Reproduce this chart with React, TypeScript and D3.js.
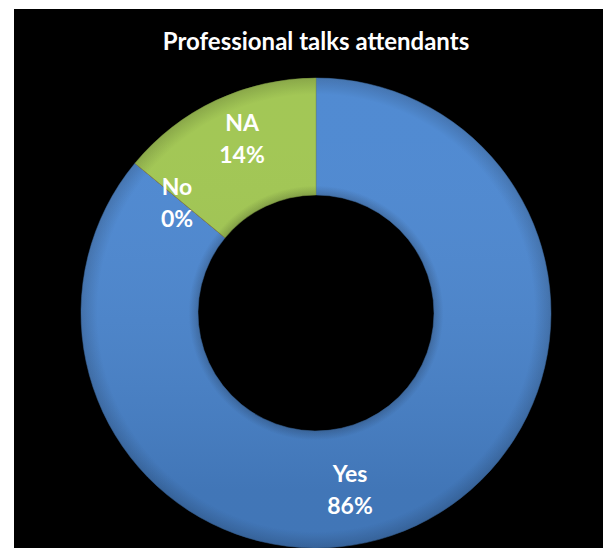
import React from "react";
import * as d3 from "d3";

const categories = ["Yes", "No", "NA"];
const values = [86, 0, 14];
const colors = ["#4a86d0", "#c0504d", "#9fc54f"];
const labels = ["86%", "0%", "14%"];
const title = "Professional talks attendants";

interface Slice {
  name: string;
  value: number;
  color: string;
  label: string;
}

const slices: Slice[] = categories.map((c, i) => ({
  name: c,
  value: values[i],
  color: colors[i],
  label: labels[i],
}));

// label offsets (labels are placed by hand in the original)
const labelPos: Record<string, [number, number]> = {
  Yes: [34, 169],
  No: [-139, -118],
  NA: [-74, -182],
};

const App: React.FC = () => {
  const width = 603;
  const height = 548;
  const cx = 316;
  const cy = 313;
  const outer = 235;
  const inner = 118;

  const pie = d3
    .pie<Slice>()
    .value((d) => d.value)
    .sort(null);
  const arcs = pie(slices);
  const arc = d3.arc<d3.PieArcDatum<Slice>>().innerRadius(inner).outerRadius(outer);

  const font = "Lato, 'Open Sans', sans-serif";

  return (
    <svg
      width={width}
      height={height}
      style={{ position: "absolute", left: 0, top: 0, display: "block" }}
    >
      <defs>
        {slices.map((s, i) => (
          <radialGradient
            key={s.name}
            id={`g${i}`}
            gradientUnits="userSpaceOnUse"
            cx={0}
            cy={0}
            r={outer}
          >
            <stop offset={inner / outer} stopColor={d3.color(s.color)!.darker(0.6).formatHex()} />
            <stop offset={inner / outer + 0.04} stopColor={s.color} />
            <stop offset={0.93} stopColor={s.color} />
            <stop offset={1} stopColor={d3.color(s.color)!.darker(0.5).formatHex()} />
          </radialGradient>
        ))}
        <linearGradient id="shade" x1="0" y1="0" x2="0" y2="1">
          <stop offset="0" stopColor="#fff" stopOpacity={0.04} />
          <stop offset="1" stopColor="#000" stopOpacity={0.12} />
        </linearGradient>
      </defs>
      <rect x={0} y={0} width={width} height={height} fill="#fff" />
      <rect x={14} y={9} width={width - 14} height={height - 9} fill="#000" />
      <text
        x={cx}
        y={50}
        textAnchor="middle"
        fill="#fff"
        fontFamily={font}
        fontWeight="bold"
        fontSize={24}
      >
        {title}
      </text>
      <g transform={`translate(${cx},${cy})`}>
        {arcs.map((a, i) => (
          <path
            key={a.data.name}
            d={arc(a) || ""}
            fill={`url(#g${i})`}
            stroke={d3.color(a.data.color)!.darker(0.8).formatHex()}
            strokeOpacity={0.5}
            strokeWidth={1}
          />
        ))}
        <circle r={(inner + outer) / 2} fill="none" stroke="url(#shade)" strokeWidth={outer - inner} />
        {arcs.map((a) => {
          const [lx, ly] = labelPos[a.data.name];
          return (
            <text
              key={a.data.name}
              x={lx}
              y={ly}
              textAnchor="middle"
              fill="#fff"
              fontFamily={font}
              fontWeight="bold"
              fontSize={23}
            >
              <tspan x={lx} dy={0}>
                {a.data.name}
              </tspan>
              <tspan x={lx} dy={32}>
                {a.data.label}
              </tspan>
            </text>
          );
        })}
      </g>
    </svg>
  );
};

export default App;
